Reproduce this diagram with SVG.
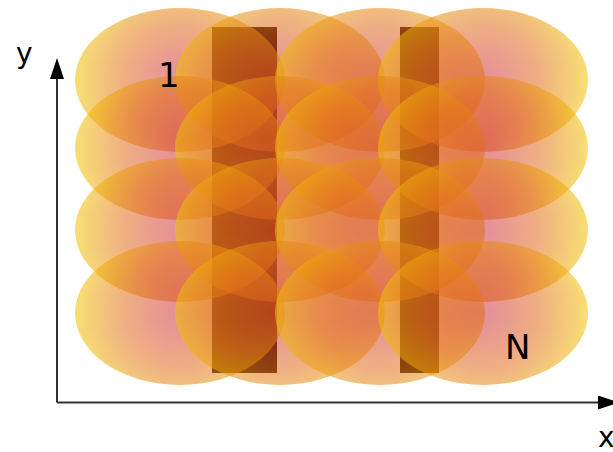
<svg xmlns="http://www.w3.org/2000/svg" width="613" height="452" viewBox="0 0 613 452">
<defs>
<radialGradient id="g" cx="0.5" cy="0.5" r="0.5" gradientTransform="translate(0.5 0.5) scale(1 1.4583) translate(-0.5 -0.5)">
<stop offset="0" stop-color="#cc1c34" stop-opacity="0.5"/>
<stop offset="0.55" stop-color="#e2701c" stop-opacity="0.55"/>
<stop offset="1" stop-color="#f2c400" stop-opacity="0.55"/>
</radialGradient>
<marker id="ah" viewBox="0 0 21 14" refX="0" refY="7" markerWidth="21" markerHeight="14" markerUnits="userSpaceOnUse" orient="auto">
<path d="M0,0 L21,7 L0,14 Z" fill="#000"/>
</marker>
<style>
.e{fill:url(#g)}
.bar{fill:#2a1000}
.ax{stroke:#333;stroke-width:2;fill:none}
.lbl{font-family:"DejaVu Sans",sans-serif;fill:#000}
</style>
</defs>
<rect width="613" height="452" fill="#fff"/>
<g id="bars">
<rect id="bar1" class="bar" x="212" y="27" width="65" height="346"/>
<rect id="bar2" class="bar" x="400" y="27" width="39" height="346"/>
</g>
<g id="cells">
<g id="r1">
<ellipse class="e" cx="180" cy="80" rx="105" ry="72"/>
<ellipse class="e" cx="280" cy="80" rx="105" ry="72"/>
<ellipse class="e" cx="380" cy="80" rx="105" ry="72"/>
<ellipse class="e" cx="483" cy="80" rx="105" ry="72"/>
</g>
<g id="r2">
<ellipse class="e" cx="180" cy="148" rx="105" ry="72"/>
<ellipse class="e" cx="280" cy="148" rx="105" ry="72"/>
<ellipse class="e" cx="380" cy="148" rx="105" ry="72"/>
<ellipse class="e" cx="483" cy="148" rx="105" ry="72"/>
</g>
<g id="r3">
<ellipse class="e" cx="180" cy="230" rx="105" ry="72"/>
<ellipse class="e" cx="280" cy="230" rx="105" ry="72"/>
<ellipse class="e" cx="380" cy="230" rx="105" ry="72"/>
<ellipse class="e" cx="483" cy="230" rx="105" ry="72"/>
</g>
<g id="r4">
<ellipse class="e" cx="180" cy="313" rx="105" ry="72"/>
<ellipse class="e" cx="280" cy="313" rx="105" ry="72"/>
<ellipse class="e" cx="380" cy="313" rx="105" ry="72"/>
<ellipse class="e" cx="483" cy="313" rx="105" ry="72"/>
</g>
</g>
<g id="connectors">
<path class="ax" d="M57,402.5 L57,79" marker-end="url(#ah)"/>
<path class="ax" d="M57,402.5 L598,402.5" marker-end="url(#ah)"/>
</g>
<g id="labels">
<text class="lbl" x="16" y="63" font-size="28">y</text>
<text class="lbl" x="598" y="447" font-size="28">x</text>
<text class="lbl" x="158" y="87" font-size="34">1</text>
<text class="lbl" x="505" y="359" font-size="34">N</text>
</g>
</svg>
